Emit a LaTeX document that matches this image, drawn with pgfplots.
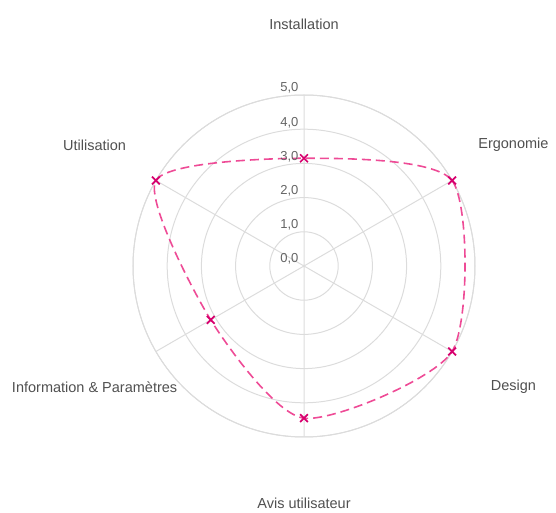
\documentclass[border=0pt]{standalone}
\usepackage{fontspec}
\setmainfont{Liberation Sans}
\usepackage{pgfplots}
\pgfplotsset{compat=1.18}
\usepgfplotslibrary{polar}
\definecolor{gridc}{RGB}{220,220,220}
\definecolor{linec}{RGB}{238,75,150}
\definecolor{markc}{RGB}{215,0,110}
\definecolor{labc}{RGB}{80,80,80}
\definecolor{tickc}{RGB}{100,100,100}
\begin{document}
\begin{tikzpicture}
\begin{polaraxis}[
  scale only axis, width=342pt, height=342pt,
  xmin=0, xmax=360, ymin=0, ymax=5,
  xtick={30,90,150,210,270,330},
  xticklabels={},
  ytick={1,2,3,4,5},
  yticklabels={},
  major tick length=0pt,
  xmajorgrids, ymajorgrids,
  major grid style={gridc, line width=1pt},
  separate axis lines,
  x axis line style={gridc, line width=1pt},
  y axis line style={draw=none},
  clip=false,
]
\addplot[linec, line width=1.6pt, dash pattern=on 9pt off 5pt, smooth cycle, tension=0.42,
  mark=x, mark size=5.5pt, mark options={markc, solid, line width=1.7pt}]
  coordinates {(90,3.15) (30,5) (330,5) (270,4.45) (210,3.15) (150,5)};
\node[anchor=base east, xshift=-2pt, yshift=3pt, text=tickc, font=\fontsize{13}{15}\selectfont] at (axis cs:90,0) {0,0};
\node[anchor=base east, xshift=-2pt, yshift=3pt, text=tickc, font=\fontsize{13}{15}\selectfont] at (axis cs:90,1) {1,0};
\node[anchor=base east, xshift=-2pt, yshift=3pt, text=tickc, font=\fontsize{13}{15}\selectfont] at (axis cs:90,2) {2,0};
\node[anchor=base east, xshift=-2pt, yshift=3pt, text=tickc, font=\fontsize{13}{15}\selectfont] at (axis cs:90,3) {3,0};
\node[anchor=base east, xshift=-2pt, yshift=3pt, text=tickc, font=\fontsize{13}{15}\selectfont] at (axis cs:90,4) {4,0};
\node[anchor=base east, xshift=-2pt, yshift=3pt, text=tickc, font=\fontsize{13}{15}\selectfont] at (axis cs:90,5) {5,0};
\node[text=labc, font=\fontsize{14.5}{17}\selectfont] at (axis cs:90,7.07) {Installation};
\node[text=labc, font=\fontsize{14.5}{17}\selectfont] at (axis cs:30,7.07) {Ergonomie};
\node[text=labc, font=\fontsize{14.5}{17}\selectfont] at (axis cs:330,7.07) {Design};
\node[text=labc, font=\fontsize{14.5}{17}\selectfont] at (axis cs:270,6.95) {Avis utilisateur};
\node[text=labc, font=\fontsize{14.5}{17}\selectfont] at (axis cs:210,7.07) {Information \& Paramètres};
\node[text=labc, font=\fontsize{14.5}{17}\selectfont] at (axis cs:150,7.07) {Utilisation};
\coordinate (c) at (axis cs:0,0);
\end{polaraxis}
\pgfresetboundingbox
\path[use as bounding box] (c) ++(-304pt,266pt) rectangle ++(556pt,-513pt);
\end{tikzpicture}
\end{document}
